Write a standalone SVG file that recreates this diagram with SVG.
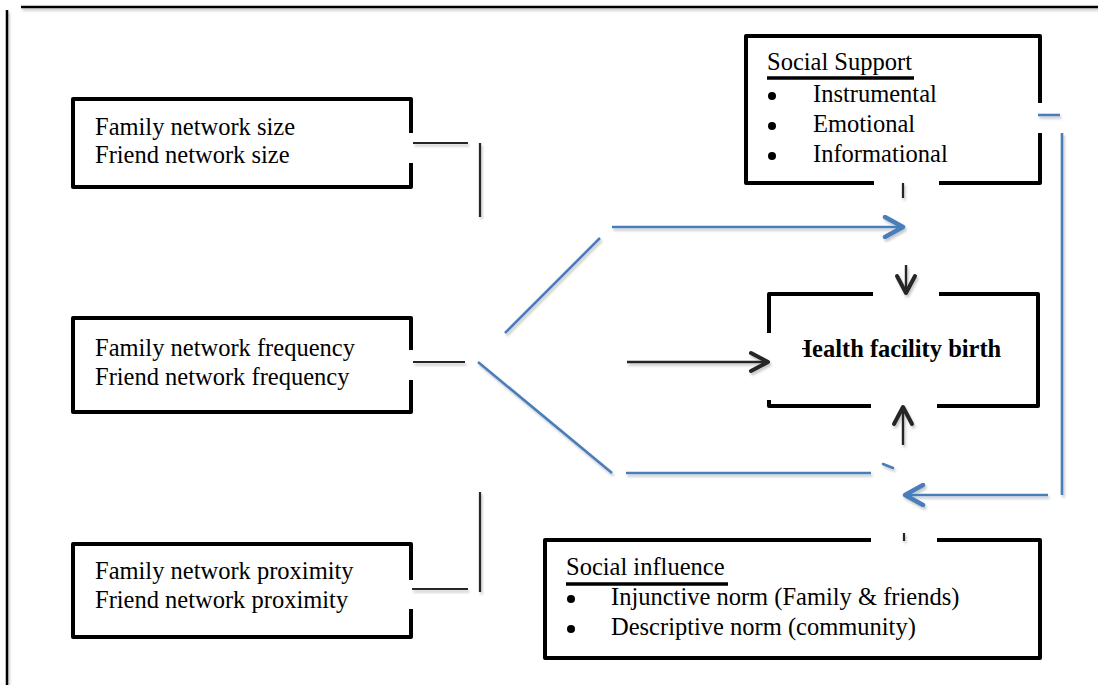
<svg xmlns="http://www.w3.org/2000/svg" width="1098" height="685" viewBox="0 0 1098 685">
  <style>
    .box { fill: none; stroke: #000; stroke-width: 4; stroke-linejoin: round; }
    .txt { font-family: "Liberation Serif", "Times New Roman", serif; font-size: 24.5px; fill: #000; }
    .dot { fill: #000; }
    .bold { font-weight: bold; }
    .ul { stroke: #000; stroke-width: 3.5; }
    .k { fill: none; stroke: #262626; stroke-width: 2.2; }
    .ka { fill: none; stroke: #262626; stroke-width: 2.4; }
    .b { fill: none; stroke: #4A7EBB; stroke-width: 2.6; }
    .frame { stroke: #000; stroke-width: 2.5; }
  </style>
  <defs>
    <filter id="sh" x="-20%" y="-20%" width="140%" height="160%">
      <feDropShadow dx="1.5" dy="2.5" stdDeviation="1.3" flood-color="#000" flood-opacity="0.22"/>
    </filter>
    <marker id="ak" viewBox="0 0 24 24" refX="21" refY="12" markerWidth="24" markerHeight="24" markerUnits="userSpaceOnUse" orient="auto">
      <path d="M4,3 L21,12 L4,21" fill="none" stroke="#262626" stroke-width="4" stroke-linecap="round" stroke-linejoin="round"/>
    </marker>
    <marker id="ab" viewBox="0 0 24 24" refX="21" refY="12" markerWidth="24" markerHeight="24" markerUnits="userSpaceOnUse" orient="auto">
      <path d="M3,2 L21,12 L3,22" fill="none" stroke="#4A7EBB" stroke-width="4.5" stroke-linecap="round" stroke-linejoin="round"/>
    </marker>
    <clipPath id="hclip">
      <rect x="802" y="300" width="230" height="100"/>
    </clipPath>
  </defs>

  <rect width="1098" height="685" fill="#fff"/>

  <g id="frame" filter="url(#sh)">
    <line class="frame" x1="21" y1="7" x2="1098" y2="7"/>
    <line class="frame" x1="7" y1="10" x2="7" y2="685"/>
  </g>

  <g id="node-size">
    <path class="box" d="M411,133 V99 H73 V187 H411 V163"/>
    <text class="txt" x="95" y="135">Family network size</text>
    <text class="txt" x="95" y="163">Friend network size</text>
  </g>

  <g id="node-frequency">
    <path class="box" d="M411,350 V318 H73 V412 H411 V380"/>
    <text class="txt" x="95" y="356">Family network frequency</text>
    <text class="txt" x="95" y="385">Friend network frequency</text>
  </g>

  <g id="node-proximity">
    <path class="box" d="M411,580 V544 H73 V637 H411 V609"/>
    <text class="txt" x="95" y="579">Family network proximity</text>
    <text class="txt" x="95" y="608">Friend network proximity</text>
  </g>

  <g id="node-social-support">
    <path class="box" d="M1040,103 V36 H746 V183 H874 M939,183 H1040 V133"/>
    <text class="txt" x="767" y="70">Social Support</text>
    <line class="ul" x1="767" y1="78" x2="914" y2="78"/>
    <circle class="dot" cx="772" cy="96" r="4"/>
    <text class="txt" x="813" y="102">Instrumental</text>
    <circle class="dot" cx="772" cy="126" r="4"/>
    <text class="txt" x="813" y="132">Emotional</text>
    <circle class="dot" cx="772" cy="156" r="4"/>
    <text class="txt" x="813" y="162">Informational</text>
  </g>

  <g id="node-health-facility-birth">
    <path class="box" d="M873,294 H769 V333 M769,400 V406 H871 M937,406 H1038 V294 H939"/>
    <text class="txt bold" x="793" y="357" clip-path="url(#hclip)">Health facility birth</text>
  </g>

  <g id="node-social-influence">
    <path class="box" d="M871,540 H545 V658 H1040 V540 H937"/>
    <text class="txt" x="566" y="575">Social influence</text>
    <line class="ul" x1="566" y1="584" x2="728" y2="584"/>
    <circle class="dot" cx="571" cy="599" r="4"/>
    <text class="txt" x="611" y="605">Injunctive norm (Family &amp; friends)</text>
    <circle class="dot" cx="571" cy="629" r="4"/>
    <text class="txt" x="611" y="635">Descriptive norm (community)</text>
  </g>

  <g id="connectors" filter="url(#sh)">
    <line class="k" x1="413" y1="143" x2="468" y2="143"/>
    <line class="k" x1="480" y1="143" x2="480" y2="217"/>
    <line class="k" x1="413" y1="362" x2="465" y2="362"/>
    <line class="k" x1="412" y1="589" x2="468" y2="589"/>
    <line class="k" x1="480" y1="492" x2="480" y2="592"/>

    <line class="b" x1="505" y1="333" x2="600" y2="238"/>
    <line class="b" x1="612" y1="227" x2="903" y2="227" marker-end="url(#ab)"/>
    <line class="b" x1="478" y1="362" x2="612" y2="473"/>
    <line class="b" x1="626" y1="473" x2="871" y2="473"/>
    <line class="b" x1="883" y1="464" x2="893" y2="468" stroke-width="3.5" stroke-linecap="round"/>

    <line class="ka" x1="627" y1="362" x2="768" y2="362" marker-end="url(#ak)"/>

    <line class="k" x1="903" y1="183" x2="903" y2="198"/>
    <line class="ka" x1="906" y1="265" x2="906" y2="293" marker-end="url(#ak)"/>
    <line class="ka" x1="903" y1="445" x2="903" y2="407" marker-end="url(#ak)"/>
    <line class="k" x1="904" y1="533" x2="904" y2="541"/>

    <line class="b" x1="1038" y1="115" x2="1060" y2="115"/>
    <line class="b" x1="1062" y1="133" x2="1062" y2="495"/>
    <line class="b" x1="1048" y1="495" x2="905" y2="495" marker-end="url(#ab)"/>
  </g>
</svg>
